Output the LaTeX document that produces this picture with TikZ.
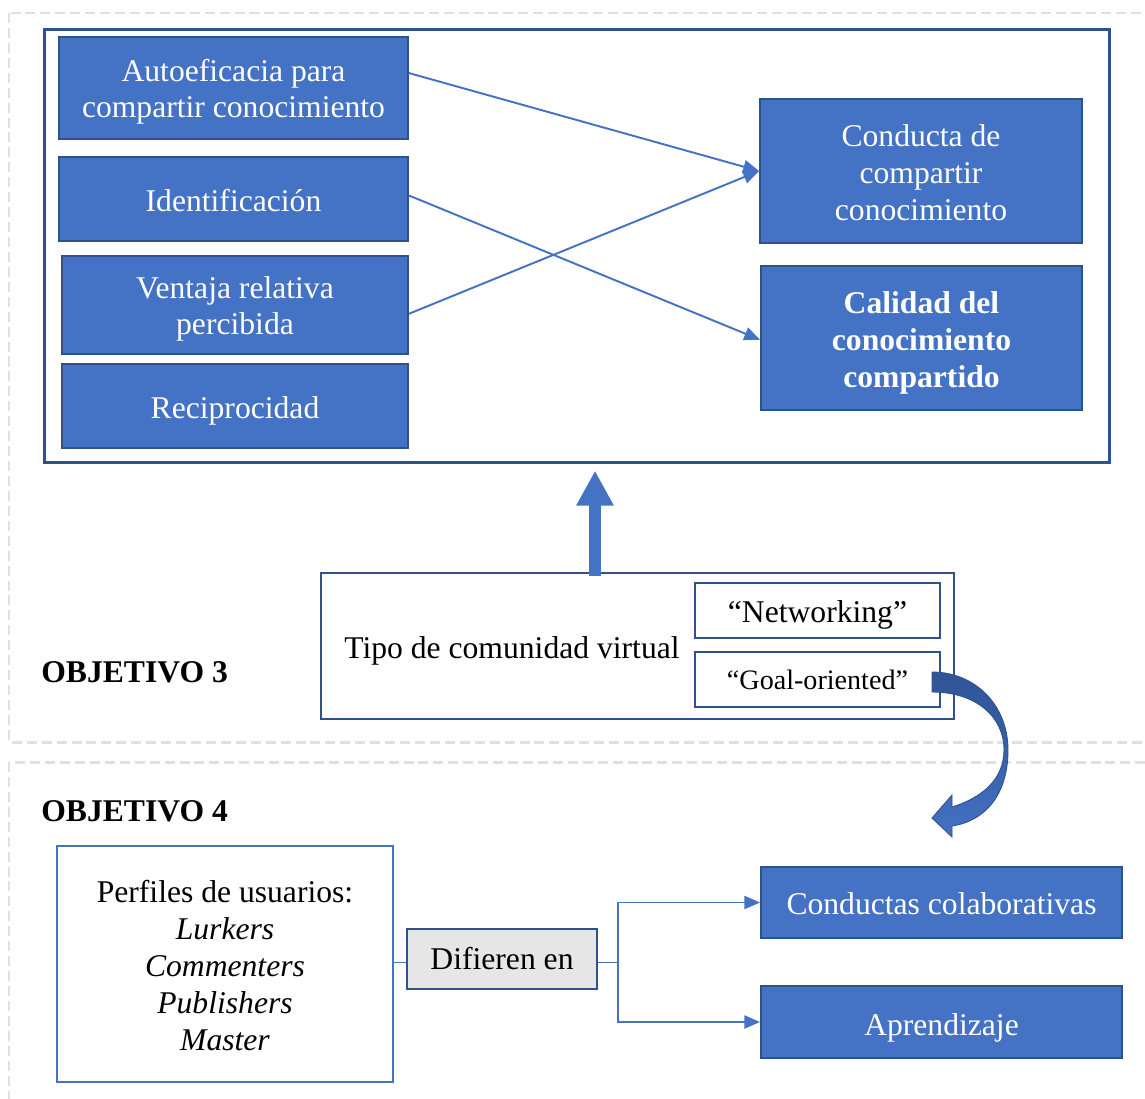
\documentclass[tikz,border=0pt]{standalone}
\usepackage{fontspec}
\setmainfont{Liberation Serif}
\usetikzlibrary{arrows.meta,calc}
\definecolor{bfill}{HTML}{4472C4}
\definecolor{bdark}{HTML}{2F528F}
\definecolor{arrowtop}{HTML}{2F5597}
\definecolor{dashgray}{HTML}{E0E0E0}
\definecolor{lightgray}{HTML}{E7E6E6}
% taller first-line strut: lowers a text block inside its box
\newcommand\lowerby[1]{\rule{0pt}{\dimexpr12.4pt+#1\relax}}
\tikzset{
  px/.style={x=0.02cm,y=-0.02cm},
  txt/.style={font=\fontsize{18}{21}\selectfont, align=center, inner sep=0pt},
  tdown/.style={execute at begin node={\lowerby{#1}}},
  bluebox/.style={txt, draw=bdark, fill=bfill, line width=1.1pt, text=white},
  whitebox/.style={txt, draw=bdark, fill=white, line width=1.1pt, text=black},
  areaframe/.style={draw=dashgray, line width=1.7pt, dash pattern=on 5.7pt off 2.8pt},
  conn/.style={draw=bfill, line width=1.1pt, -{Triangle[length=9pt,width=7.5pt]}},
  link/.style={draw=bfill, line width=1.1pt},
  bigarrow/.style={draw=bfill, line width=6.8pt, -{Triangle[length=20pt,width=20pt]}},
}
\begin{document}
\begin{tikzpicture}[px]
\path[use as bounding box, clip] (0,0) rectangle (1145,1098);
\fill[white] (0,0) rectangle (1145,1098);

% the two objective areas
\draw[areaframe] (9,13) rectangle (1160,742);
\draw[areaframe] (9,762) rectangle (1160,1120);

% objective 3: model of knowledge sharing
\node[draw=bdark, line width=1.7pt, minimum width=21.32cm, minimum height=8.68cm, inner sep=0pt] (frame) at (577,246) {};

\node[bluebox, minimum width=6.98cm, minimum height=2.04cm] (auto) at (233.5,88) {\lowerby{4.5pt}Autoeficacia para\\compartir conocimiento};
\node[bluebox, tdown=1.7pt, minimum width=6.98cm, minimum height=1.68cm] (ident) at (233.5,199) {Identificación};
\node[bluebox, minimum width=6.92cm, minimum height=1.96cm] (venta) at (235,305) {\lowerby{4.5pt}Ventaja relativa\\percibida};
\node[bluebox, tdown=5.7pt, minimum width=6.92cm, minimum height=1.68cm] (recip) at (235,406) {Reciprocidad};
\node[bluebox, minimum width=6.44cm, minimum height=2.88cm] (conducta) at (921,171) {\lowerby{2.3pt}Conducta de\\compartir\\conocimiento};
\node[bluebox, minimum width=6.42cm, minimum height=2.88cm, font=\fontsize{18}{21}\selectfont\bfseries] (calidad) at (921.5,338) {\lowerby{5.7pt}Calidad del\\conocimiento\\compartido};

\draw[conn] ([yshift=8.5pt]auto.east) -- (conducta.west);
\draw[conn] ([yshift=-5pt]venta.east) -- (conducta.west);
\draw[conn] ([yshift=2pt]ident.east) -- ([yshift=-1pt]calidad.west);

% virtual community type
\node[whitebox, minimum width=12.66cm, minimum height=2.92cm] (tipo) at (637.5,646) {};
\node[txt] (tipotext) at (512,651) {Tipo de comunidad virtual};
\node[whitebox, tdown=5.7pt, minimum width=4.9cm, minimum height=1.1cm] (netw) at (817.5,610.5) {“Networking”};
\node[whitebox, minimum width=4.9cm, minimum height=1.1cm, font=\fontsize{16}{19}\selectfont] (goal) at (817.5,679.5) {“Goal-oriented”};

\coordinate (upfoot) at ([xshift=-0.85cm,yshift=-2pt]tipo.north);
\draw[bigarrow, shorten >=3.5pt] (upfoot) -- (upfoot |- frame.south);

\node[txt, anchor=west, font=\fontsize{18}{21}\selectfont\bfseries] (obj3) at (41,672) {OBJETIVO 3};

% curved block arrow leading to objective 4
\draw[draw=bdark, line width=0.5pt, top color=arrowtop, bottom color=bfill, middle color=arrowtop!60!bfill]
  (932,672) .. controls (975,672) and (1008,705) .. (1008,750)
  .. controls (1008,795) and (985,821) .. (952,826)
  -- (952,837) -- (932,818) -- (952,795) -- (952,807)
  .. controls (984,797) and (1004,778) .. (1004,750)
  .. controls (1004,716) and (975,692) .. (932,692) -- cycle;

% objective 4: user profiles
\node[txt, anchor=west, font=\fontsize{18}{21}\selectfont\bfseries] (obj4) at (41,811) {OBJETIVO 4};

\node[txt, draw=bfill, line width=1.4pt, minimum width=6.72cm, minimum height=4.72cm] (perfiles) at (225,964)
  {\lowerby{1.7pt}Perfiles de usuarios:\\\textit{Lurkers}\\\textit{Commenters}\\\textit{Publishers}\\\textit{Master}};
\node[txt, draw=bdark, fill=lightgray, line width=1.1pt, minimum width=3.8cm, minimum height=1.2cm] (difieren) at (502,959) {Difieren en};
\node[bluebox, tdown=1.1pt, minimum width=7.22cm, minimum height=1.42cm] (conductas) at (941.5,902.5) {Conductas colaborativas};
\node[bluebox, tdown=6.8pt, minimum width=7.22cm, minimum height=1.44cm] (aprend) at (941.5,1022) {Aprendizaje};

\draw[link] ([yshift=-2pt]difieren.west -| perfiles.east) -- ([yshift=-2pt]difieren.west);
\coordinate (branch) at ([xshift=0.4cm,yshift=-2pt]difieren.east);
\draw[link] ([yshift=-2pt]difieren.east) -- (branch);
\draw[conn] (branch) |- (conductas.west);
\draw[conn] (branch) |- (aprend.west);
\end{tikzpicture}
\end{document}
